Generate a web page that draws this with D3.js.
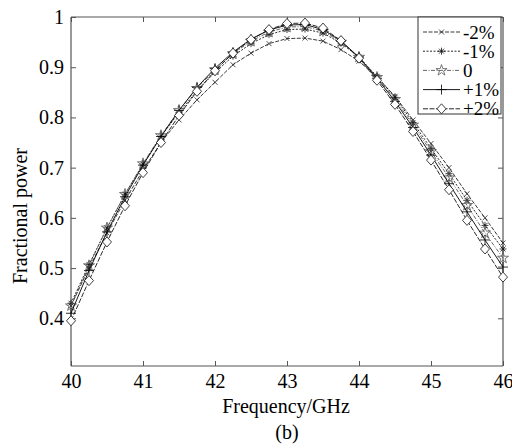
<!DOCTYPE html>
<html><head><meta charset="utf-8">
<script src="https://cdn.jsdelivr.net/npm/d3@7"></script>
<style>body{margin:0;background:#fff}svg{display:block}text{font-family:"Liberation Serif","Times New Roman",serif;fill:#000}</style>
</head><body><svg id="c" width="512" height="447"></svg>
<script>
const freq = [40,40.25,40.5,40.75,41,41.25,41.5,41.75,42,42.25,42.5,42.75,43,43.25,43.5,43.75,44,44.25,44.5,44.75,45,45.25,45.5,45.75,46];
const seriesNames = ["-2%","-1%","0","+1%","+2%"];
const vM2 = [0.425,0.50,0.57,0.635,0.695,0.75,0.795,0.835,0.87,0.905,0.928,0.947,0.957,0.958,0.952,0.935,0.912,0.88,0.842,0.795,0.748,0.70,0.648,0.60,0.55];
const vM1 = [0.43,0.507,0.58,0.647,0.707,0.762,0.81,0.853,0.89,0.922,0.947,0.965,0.975,0.976,0.968,0.948,0.92,0.882,0.84,0.79,0.738,0.688,0.635,0.585,0.538];
const v0  = [0.425,0.505,0.58,0.647,0.708,0.764,0.814,0.858,0.895,0.927,0.952,0.97,0.98,0.981,0.972,0.95,0.92,0.88,0.836,0.785,0.732,0.68,0.625,0.57,0.52];
const vP1 = [0.41,0.495,0.572,0.642,0.705,0.762,0.814,0.86,0.898,0.93,0.956,0.974,0.984,0.985,0.975,0.952,0.92,0.878,0.832,0.78,0.725,0.668,0.612,0.556,0.502];
const vP2 = [0.395,0.475,0.552,0.624,0.69,0.75,0.804,0.852,0.893,0.928,0.955,0.975,0.987,0.988,0.978,0.953,0.918,0.874,0.826,0.772,0.715,0.656,0.595,0.538,0.482];
const xTicks = [40,41,42,43,44,45,46];
const yTicks = [0.4,0.5,0.6,0.7,0.8,0.9,1];
const yTickLabels = ["0.4","0.5","0.6","0.7","0.8","0.9","1"];

const values = [vM2,vM1,v0,vP1,vP2];
const styles = [
  {marker:"x", dash:"4,1.5", color:"#222"},
  {marker:"ast", dash:"2,1.5", color:"#111"},
  {marker:"pent", dash:"4,1.5,1,1.5", color:"#555"},
  {marker:"plus", dash:null, color:"#000"},
  {marker:"diam", dash:"5,1.5", color:"#111"}
];
const L=71, R=503, T=17, B=366;
const x = d3.scaleLinear().domain([40,46]).range([L,R]);
const y = d3.scaleLinear().domain([0.305,1]).range([B,T]);
const svg = d3.select("#c");

function markerPath(m){
  switch(m){
    case "x": return "M-2.5,-2.5L2.5,2.5M-2.5,2.5L2.5,-2.5";
    case "ast": return "M-3.5,0L3.5,0M0,-3.5L0,3.5M-2.5,-2.5L2.5,2.5M-2.5,2.5L2.5,-2.5";
    case "pent": return d3.symbol(d3.symbolStar, 38)();
    case "plus": return "M-5,0L5,0M0,-5L0,5";
    case "diam": return "M0,-5L4.5,0L0,5L-4.5,0Z";
  }
}

// axes box
const axisColor = "#555";
const g = svg.append("g");
const ax = g.append("g").attr("transform",`translate(0,${B})`).call(d3.axisBottom(x).tickValues(xTicks).tickSize(-5).tickFormat(d3.format("d")).tickPadding(8));
const axT = g.append("g").attr("transform",`translate(0,${T})`).call(d3.axisTop(x).tickValues(xTicks).tickSize(-5).tickFormat(""));
const ay = g.append("g").attr("transform",`translate(${L},0)`).call(d3.axisLeft(y).tickValues(yTicks).tickSize(-5).tickFormat((d,i)=>yTickLabels[i]).tickPadding(7));
const ayR = g.append("g").attr("transform",`translate(${R},0)`).call(d3.axisRight(y).tickValues(yTicks).tickSize(-5).tickFormat(""));
[ax,axT,ay,ayR].forEach(a=>{
  a.select(".domain").attr("stroke",axisColor).attr("stroke-width",1.2);
  a.selectAll(".tick line").attr("stroke",axisColor);
  a.selectAll("text").style("font-size","20px").attr("fill","#000");
});
ax.selectAll("text").attr("dy","0.72em");
axT.select(".domain").attr("d",`M${L},0H${R}`);
ayR.select(".domain").attr("d",`M0,${T}V${B}`);
ax.select(".domain").attr("d",`M${L},0H${R}`);
ay.select(".domain").attr("d",`M0,${T}V${B}`);

// lines
const line = d3.line().x((d,i)=>x(freq[i])).y(d=>y(d));
values.forEach((vals,k)=>{
  const st = styles[k];
  svg.append("path").attr("d",line(vals)).attr("fill","none").attr("stroke",st.color)
    .attr("stroke-width",0.9).attr("stroke-dasharray",st.dash);
  svg.append("g").selectAll("path").data(vals).join("path")
    .attr("d",markerPath(st.marker))
    .attr("transform",(d,i)=>`translate(${x(freq[i])},${y(d)})`)
    .attr("fill", st.marker==="diam"?"#fff":"none")
    .attr("stroke",st.color).attr("stroke-width",0.8);
});

// legend
const lg = svg.append("g");
lg.append("rect").attr("x",418).attr("y",T).attr("width",83).attr("height",97)
  .attr("fill","#fff").attr("stroke","#333").attr("stroke-width",1);
seriesNames.forEach((name,k)=>{
  const st = styles[k];
  const yy = 32 + k*19.2;
  lg.append("line").attr("x1",423).attr("x2",460).attr("y1",yy).attr("y2",yy)
    .attr("stroke",st.color).attr("stroke-width",0.9).attr("stroke-dasharray",st.dash);
  lg.append("path").attr("d",markerPath(st.marker)).attr("transform",`translate(441.5,${yy})`)
    .attr("fill",st.marker==="diam"?"#fff":"none").attr("stroke",st.color).attr("stroke-width",0.8);
  lg.append("text").attr("x",463).attr("y",yy).attr("dy","0.35em").style("font-size","19px").text(name);
});

// labels
svg.append("text").attr("x",286).attr("y",413).attr("text-anchor","middle").style("font-size","20px").text("Frequency/GHz");
svg.append("text").attr("x",287).attr("y",439).attr("text-anchor","middle").style("font-size","20px").text("(b)");
svg.append("text").attr("transform","translate(27,216) rotate(-90)").attr("text-anchor","middle").style("font-size","20px").text("Fractional power");
</script></body></html>
